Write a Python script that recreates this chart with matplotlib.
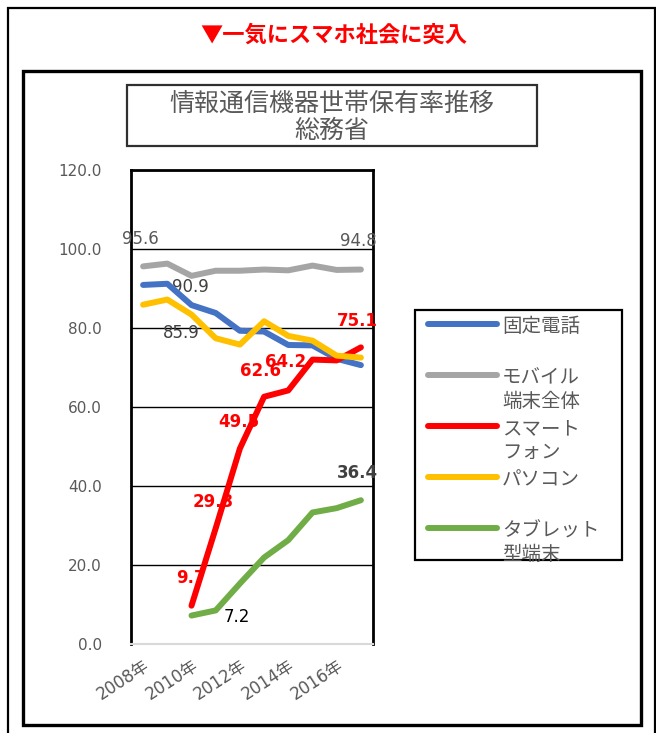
import numpy as np
import matplotlib
matplotlib.use("Agg")
import matplotlib.pyplot as plt
from matplotlib.patches import Rectangle
from matplotlib.legend_handler import HandlerLine2D

plt.rcParams['font.family'] = ['Noto Sans CJK JP', 'DejaVu Sans']

# ---------------- data ----------------
years = list(range(2008, 2018))
xtick_years = [2008, 2010, 2012, 2014, 2016]
xtick_labels = ["2008年", "2010年", "2012年", "2014年", "2016年"]
yticks = [0, 20, 40, 60, 80, 100, 120]
ytick_labels = ["0.0", "20.0", "40.0", "60.0", "80.0", "100.0", "120.0"]

series_names = ["固定電話", "モバイル\n端末全体", "スマート\nフォン", "パソコン", "タブレット\n型端末"]
fixed_phone = [90.9, 91.2, 85.8, 83.8, 79.3, 79.1, 75.7, 75.6, 72.2, 70.6]
mobile_total = [95.6, 96.3, 93.2, 94.5, 94.5, 94.8, 94.6, 95.8, 94.7, 94.8]
smartphone = [np.nan, np.nan, 9.7, 29.3, 49.5, 62.6, 64.2, 72.0, 71.8, 75.1]
pc = [85.9, 87.2, 83.4, 77.4, 75.8, 81.7, 78.0, 76.8, 73.0, 72.5]
tablet = [np.nan, np.nan, 7.2, 8.5, 15.3, 21.9, 26.3, 33.3, 34.4, 36.4]

page_title = "▼一気にスマホ社会に突入"
chart_title = "情報通信機器世帯保有率推移\n総務省"

series_values = [fixed_phone, mobile_total, smartphone, pc, tablet]
series_colors = ['#4472C4', '#A5A5A5', '#FF0000', '#FFC000', '#70AD47']

# data labels: (series index, year) -- offsets (px) and styles below
label_points = [(1, 2008), (1, 2017), (0, 2008), (3, 2008),
                (2, 2010), (2, 2011), (2, 2012), (2, 2013), (2, 2014), (2, 2017),
                (4, 2010), (4, 2017)]
label_offsets_px = [(-3, 27), (-3, 29), (47, -2), (38, -28),
                    (-1, 28), (-2, 26), (-1, 26), (-4, 26), (-3, 28), (-4, 26),
                    (45, -1), (-3, 27)]
label_colors = ['#595959', '#595959', '#404040', '#404040',
                'red', 'red', 'red', 'red', 'red', 'red',
                'black', '#404040']
label_weights = ['normal', 'normal', 'normal', 'normal',
                 'bold', 'bold', 'bold', 'bold', 'bold', 'bold',
                 'normal', 'bold']

# ---------------- layout helpers ----------------
W, H = 656, 733
def fx(px):
    return px / W
def fy(py):
    return 1 - py / H

fig = plt.figure(figsize=(W / 100, H / 100), dpi=100)
fig.patch.set_facecolor('white')

# outer frame and inner chart frame
fig.add_artist(Rectangle((fx(8), fy(745)), fx(655) - fx(8), fy(8) - fy(745),
                         transform=fig.transFigure, fill=False, ec='black', lw=1.6, zorder=0))
fig.add_artist(Rectangle((fx(23), fy(725)), fx(641) - fx(23), fy(71) - fy(725),
                         transform=fig.transFigure, fill=False, ec='black', lw=2.4, zorder=0))

# page title
fig.text(fx(334), fy(35), page_title, color='red', fontsize=16, fontweight='bold',
         ha='center', va='center')

# chart title box
fig.add_artist(Rectangle((fx(127), fy(146)), fx(537) - fx(127), fy(85) - fy(146),
                         transform=fig.transFigure, fill=False, ec='#303030', lw=1.6, zorder=1))
fig.text(fx(332), fy(117), chart_title, color='#595959', fontsize=18,
         ha='center', va='center', linespacing=1.05)

# ---------------- axes ----------------
ax = fig.add_axes([fx(131), fy(644), fx(373) - fx(131), fy(170) - fy(644)])
x = np.arange(len(years))
lines = []
for vals, col, name in zip(series_values, series_colors, series_names):
    ln, = ax.plot(x, vals, color=col, lw=4.3, solid_capstyle='round',
                  solid_joinstyle='round', label=name, zorder=4)
    lines.append(ln)

ax.set_xlim(-0.5, len(years) - 0.5)
ax.set_ylim(yticks[0], yticks[-1])
ax.set_yticks(yticks)
ax.set_yticklabels(ytick_labels, family=['DejaVu Sans'], fontsize=11, color='#595959')
ax.set_xticks([years.index(y) for y in xtick_years])
ax.set_xticklabels(xtick_labels, family=['DejaVu Sans', 'Noto Sans CJK JP'], fontsize=12,
                   color='#595959', rotation=33, ha='right', va='top',
                   rotation_mode='anchor')
ax.tick_params(axis='y', length=0, pad=21)
ax.tick_params(axis='x', length=0, pad=9)

ax.set_axisbelow(True)
ax.yaxis.grid(True, color='black', lw=1.0)
for s in ['left', 'right', 'top']:
    ax.spines[s].set_color('black')
    ax.spines[s].set_linewidth(2.0)
ax.spines['bottom'].set_color('#D9D9D9')
ax.spines['bottom'].set_linewidth(1.5)

# data labels
for (si, yr), (dx, dy), col, wt in zip(label_points, label_offsets_px, label_colors, label_weights):
    xi = years.index(yr)
    v = series_values[si][xi]
    ax.annotate(f"{v:.1f}", (xi, v), xytext=(dx * 0.72, dy * 0.72), textcoords='offset points',
                ha='center', va='center', fontsize=12, color=col, fontweight=wt,
                family=['DejaVu Sans'], zorder=3, annotation_clip=False)

# ---------------- legend ----------------
class FirstLineHandler(HandlerLine2D):
    def create_artists(self, legend, orig_handle, xdescent, ydescent, width, height,
                       fontsize, trans):
        arts = super().create_artists(legend, orig_handle, xdescent, ydescent, width,
                                      height, fontsize, trans)
        for a in arts:
            a.set_ydata(np.asarray(a.get_ydata(), dtype=float) + 0.8 * fontsize)
        return arts

fig.add_artist(Rectangle((fx(415), fy(560)), fx(622) - fx(415), fy(310) - fy(560),
                         transform=fig.transFigure, facecolor='white', ec='black', lw=1.6,
                         zorder=1))
leg_labels = [n if "\n" in n else n + "\n" for n in series_names]
leg = fig.legend(lines, leg_labels, loc='upper left',
                 bbox_to_anchor=(fx(428), fy(316)), bbox_transform=fig.transFigure,
                 frameon=False, fontsize=14, labelcolor='#595959',
                 handlelength=3.55, handletextpad=0.26, labelspacing=0.3,
                 borderpad=0, borderaxespad=0,
                 handler_map={l: FirstLineHandler() for l in lines})
leg.set_zorder(2)

fig.savefig("out.png", dpi=100)
